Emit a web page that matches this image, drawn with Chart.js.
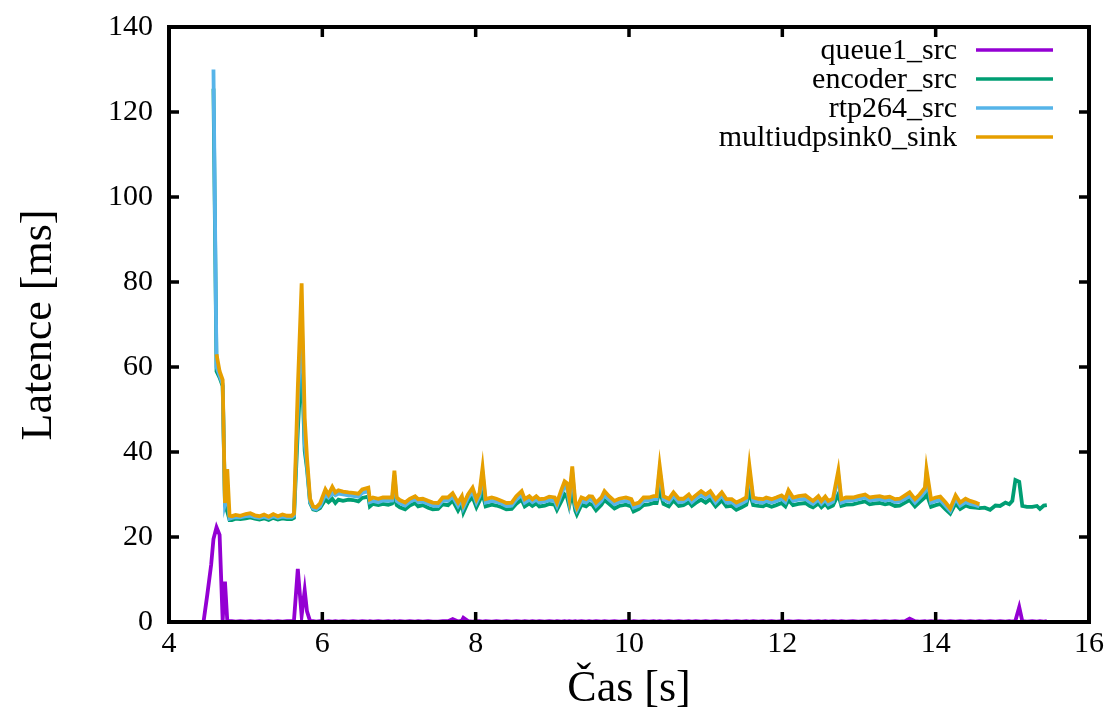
<!DOCTYPE html>
<html>
<head>
<meta charset="utf-8">
<script src="https://cdn.jsdelivr.net/npm/chart.js@4.4.1/dist/chart.umd.min.js"></script>
<style>
  html, body { margin: 0; padding: 0; background: #fff; }
  #wrap { width: 1107px; height: 717px; }
</style>
</head>
<body>
<div id="wrap"><canvas id="c"></canvas></div>
<script>
// time axis [s]
var times = [
  4.45, 4.50, 4.55, 4.58, 4.62, 4.66, 4.70, 4.73, 4.76, 4.79,
  4.82, 4.87, 4.93, 5.00, 5.06, 5.12, 5.18, 5.24, 5.30, 5.36,
  5.42, 5.48, 5.54, 5.60, 5.63, 5.68, 5.73, 5.77, 5.80, 5.84,
  5.88, 5.92, 5.97, 6.04, 6.08, 6.13, 6.17, 6.21, 6.27, 6.34,
  6.40, 6.47, 6.52, 6.60, 6.62, 6.66, 6.73, 6.79, 6.86, 6.91,
  6.94, 6.97, 7.01, 7.08, 7.14, 7.21, 7.25, 7.31, 7.38, 7.44,
  7.51, 7.57, 7.64, 7.70, 7.77, 7.82, 7.84, 7.90, 7.96, 8.01,
  8.05, 8.09, 8.13, 8.21, 8.27, 8.34, 8.40, 8.47, 8.53, 8.60,
  8.64, 8.70, 8.74, 8.79, 8.83, 8.90, 8.96, 9.03, 9.06, 9.12,
  9.16, 9.19, 9.22, 9.26, 9.30, 9.32, 9.38, 9.44, 9.48, 9.52,
  9.57, 9.64, 9.68, 9.74, 9.81, 9.87, 9.96, 10.03, 10.06, 10.13,
  10.19, 10.26, 10.32, 10.36, 10.40, 10.45, 10.52, 10.58, 10.65, 10.71,
  10.78, 10.82, 10.87, 10.94, 11.00, 11.06, 11.13, 11.21, 11.27, 11.34,
  11.40, 11.47, 11.53, 11.57, 11.62, 11.69, 11.75, 11.79, 11.86, 11.92,
  11.99, 12.04, 12.08, 12.14, 12.21, 12.30, 12.36, 12.40, 12.47, 12.51,
  12.56, 12.60, 12.66, 12.73, 12.77, 12.83, 12.92, 12.99, 13.08, 13.14,
  13.21, 13.27, 13.34, 13.40, 13.47, 13.53, 13.60, 13.66, 13.73, 13.79,
  13.86, 13.88, 13.94, 14.00, 14.06, 14.13, 14.19, 14.26, 14.32, 14.39,
  14.45, 14.52, 14.57, 14.64, 14.71, 14.78, 14.84, 14.91, 14.96, 15.00,
  15.04, 15.09, 15.13, 15.19, 15.26, 15.32, 15.36, 15.41, 15.45
];

// latencies [ms]
var queue1 = [
  0, 6.5, 13.5, 19.5, 22.3, 20.5, 0.3, 9.5, 0.3, 0.2,
  0.2, 0.1, 0.2, 0.1, 0.2, 0.1, 0.2, 0.1, 0.2, 0.1,
  0.2, 0.1, 0.2, 0.2, 0.3, 12.5, 1.5, 7.5, 2.5, 0.2,
  0.2, 0.1, 0.2, 0.1, 0.2, 0.1, 0.2, 0.1, 0.2, 0.1,
  0.2, 0.1, 0.2, 0.1, 0.2, 0.1, 0.2, 0.1, 0.2, 0.1,
  0.2, 0.1, 0.2, 0.1, 0.2, 0.1, 0.2, 0.1, 0.2, 0.1,
  0.1, 0.2, 0.2, 0.7, 0.1, 0.3, 1.0, 0.2, 0.1, 0.2,
  0.2, 0.1, 0.2, 0.1, 0.2, 0.1, 0.2, 0.1, 0.2, 0.1,
  0.2, 0.1, 0.2, 0.1, 0.2, 0.1, 0.2, 0.1, 0.2, 0.1,
  0.2, 0.1, 0.2, 0.1, 0.2, 0.1, 0.2, 0.1, 0.2, 0.1,
  0.2, 0.1, 0.2, 0.1, 0.2, 0.1, 0.2, 0.1, 0.2, 0.1,
  0.2, 0.1, 0.2, 0.1, 0.2, 0.1, 0.2, 0.1, 0.2, 0.1,
  0.2, 0.1, 0.2, 0.1, 0.2, 0.1, 0.2, 0.1, 0.2, 0.1,
  0.2, 0.1, 0.2, 0.1, 0.2, 0.1, 0.2, 0.1, 0.2, 0.1,
  0.2, 0.1, 0.2, 0.1, 0.2, 0.1, 0.2, 0.1, 0.2, 0.1,
  0.2, 0.1, 0.2, 0.1, 0.2, 0.1, 0.2, 0.1, 0.2, 0.1,
  0.2, 0.1, 0.2, 0.1, 0.2, 0.1, 0.2, 0.8, 0.2, 0.1,
  0.2, 0.1, 0.2, 0.1, 0.2, 0.1, 0.2, 0.1, 0.2, 0.1,
  0.2, 0.1, 0.2, 0.1, 0.2, 0.1, 0.2, 0.1, 0.2, 0.1,
  0.3, 3.5, 0.2, 0.1, 0.2, 0.1, 0.2, 0.1, 0.2
];

var encoder = [
  null, null, null, 125.5, 59, 57.5, 55.5, 27.5, 26, 24,
  24.0, 24.3, 24.2, 24.4, 24.6, 24.3, 24.1, 24.4, 24.0, 24.5,
  24.1, 24.4, 24.2, 24.2, 24.5, 45, 62, 40.3, 36, 28,
  26.5, 26.3, 26.8, 28.8, 28.2, 29, 28, 28.8, 28.5, 28.8,
  28.7, 28.4, 29.2, 29.5, 27.2, 27.8, 27.5, 27.8, 27.6, 27.9,
  29.5, 27.5, 27, 26.5, 27.4, 28, 27.2, 27.5, 26.9, 26.5,
  26.6, 27.7, 27.5, 28.6, 26.2, 27.8, 25.8, 28.2, 29.4, 27,
  28.5, 30.2, 27.2, 27.6, 27.4, 27, 26.5, 26.6, 27.8, 28.8,
  27.2, 27.9, 27.3, 27.9, 27.2, 27.4, 27.8, 27.6, 26.4, 28.5,
  30, 29.5, 27.3, 30.5, 26.2, 25.3, 27.6, 27.2, 27.8, 27.6,
  26.3, 27.6, 28.7, 27.8, 26.7, 27.3, 27.6, 27.2, 26, 26.6,
  27.5, 27.7, 28, 28, 31, 27.8, 27.2, 28.6, 27.3, 27.5,
  28.2, 27.3, 28, 28.8, 28.1, 28.9, 27.2, 28.6, 27.2, 27.3,
  26.4, 27, 27.6, 30.6, 27.5, 27.3, 27.2, 27.6, 27.1, 27.5,
  28, 27.2, 28.7, 27.5, 27.8, 28, 27.3, 27, 27.9, 27,
  27.8, 26.9, 27.4, 30, 27.3, 27.6, 27.7, 28, 28.4, 27.7,
  27.9, 28, 27.7, 27.9, 27.3, 27.4, 28.1, 28.7, 27.2, 28.2,
  29.3, 30.2, 27.1, 27.5, 27.8, 26.5, 25.5, 27.9, 26.6, 27.4,
  27, 26.9, 26.8, 26.9, 26.4, 27.4, 27.3, 28.1, 27.7, 28.5,
  33.4, 33.0, 27.3, 27.1, 27.1, 27.3, 26.6, 27.4, 27.5
];

var rtp264 = [
  null, null, null, 130, 60, 58, 56, 27.8, 30, 24.3,
  24.5, 24.7, 24.6, 24.9, 25.0, 24.7, 24.5, 24.8, 24.4, 24.9,
  24.5, 24.8, 24.6, 24.6, 25, 50, 73, 42, 37, 28.3,
  26.7, 26.5, 27.2, 30, 29.3, 30.3, 29.8, 30.2, 30, 29.8,
  29.7, 29.5, 30.4, 30.8, 28.2, 28.5, 28.2, 28.6, 28.5, 28.6,
  34.5, 28.5, 28, 27.4, 28.3, 28.9, 28.2, 28.3, 27.8, 27.4,
  27.3, 28.6, 28.5, 29.5, 27.3, 28.8, 26.9, 29.2, 30.6, 28.1,
  29.6, 35, 28.1, 28.5, 28.3, 27.8, 27.3, 27.4, 28.8, 30,
  28.1, 28.8, 28.2, 28.8, 28.1, 28.3, 28.7, 28.5, 27.3, 30.2,
  32, 31.6, 28.4, 35.2, 27.3, 26.3, 28.5, 28.1, 28.8, 28.7,
  27.3, 28.5, 29.9, 28.8, 27.7, 28.2, 28.5, 28.1, 26.9, 27.4,
  28.5, 28.6, 28.9, 28.9, 35.5, 28.8, 28.2, 29.7, 28.2, 28.3,
  29.2, 28.2, 29, 30, 29.2, 30, 28.1, 29.7, 28.1, 28.2,
  27.3, 27.9, 28.5, 35.5, 28.5, 28.2, 28.1, 28.5, 28.1, 28.5,
  29, 28.2, 30, 28.5, 28.8, 29, 28.2, 27.8, 28.8, 27.8,
  28.7, 27.7, 28.3, 34.5, 28.1, 28.5, 28.6, 28.9, 29.3, 28.6,
  28.8, 28.9, 28.6, 28.8, 28.2, 28.3, 29, 29.7, 28.1, 29.2,
  30.6, 34.8, 28.1, 28.5, 28.7, 27.3, 26.1, 29, 27.4, 28.2,
  27.8, 27.5, 27.2, null, null, null, null, null, null, null,
  null, null, null, null, null, null, null, null, null
];

var multiudpsink = [
  null, null, null, null, 63, 59, 57, 28, 36, 25,
  24.9, 25.2, 25.0, 25.4, 25.6, 25.1, 24.9, 25.3, 24.8, 25.4,
  24.9, 25.3, 25.0, 25.0, 25.5, 55, 79.7, 48, 38.6, 29,
  27.2, 27.0, 27.9, 31.2, 30, 31.8, 30.5, 31, 30.7, 30.5,
  30.4, 30.2, 31.2, 31.6, 28.9, 29.3, 29, 29.3, 29.3, 29.3,
  35.6, 29.3, 28.7, 28.1, 29, 29.6, 28.9, 29, 28.5, 28.1,
  28, 29.3, 29.3, 30.3, 28.1, 29.6, 27.7, 30, 31.6, 28.9,
  30.4, 36.3, 28.9, 29.3, 29, 28.5, 28, 28.1, 29.6, 30.8,
  28.9, 29.6, 28.9, 29.6, 28.9, 29, 29.5, 29.3, 28.1, 31.2,
  33.1, 32.7, 29.3, 36.6, 28.1, 27, 29.3, 28.9, 29.6, 29.5,
  28.1, 29.3, 30.8, 29.6, 28.5, 29, 29.3, 28.9, 27.7, 28.1,
  29.3, 29.3, 29.6, 29.6, 36.8, 29.6, 29, 30.5, 29, 29,
  30, 29, 29.8, 30.8, 30, 30.8, 28.9, 30.5, 28.9, 28.9,
  28.1, 28.7, 29.3, 36.8, 29.3, 29, 28.9, 29.3, 28.9, 29.3,
  29.8, 29, 31, 29.3, 29.6, 29.8, 29, 28.5, 29.6, 28.5,
  29.5, 28.5, 29, 35.6, 28.9, 29.3, 29.3, 29.6, 30, 29.3,
  29.5, 29.6, 29.3, 29.5, 28.9, 29, 29.8, 30.5, 28.9, 30,
  31.6, 36, 28.9, 29.3, 29.5, 28.1, 26.7, 29.8, 28.1, 29,
  28.5, 28.1, 27.7, null, null, null, null, null, null, null,
  null, null, null, null, null, null, null, null, null
];

var seriesNames = ['queue1_src', 'encoder_src', 'rtp264_src', 'multiudpsink0_sink'];
var seriesColors = ['#9400d3', '#009e73', '#56b4e9', '#e69f00'];
var seriesData = [queue1, encoder, rtp264, multiudpsink];

var FONT = "'Liberation Serif', 'DejaVu Serif', serif";

function toPoints(values) {
  return times.map(function (t, i) { return { x: t, y: values[i] }; });
}

var datasets = seriesData.map(function (vals, i) {
  return {
    label: seriesNames[i],
    data: toPoints(vals),
    borderColor: seriesColors[i],
    backgroundColor: seriesColors[i],
    borderWidth: 3.8,
    pointRadius: 0,
    tension: 0,
    spanGaps: false,
    order: 3 - i   // last series drawn on top, like gnuplot
  };
});

// frame, inward ticks on all sides, axis titles and gnuplot-style key
var gnuplotLook = {
  id: 'gnuplotLook',
  afterDraw: function (chart) {
    var ctx = chart.ctx;
    var a = chart.chartArea;
    var xs = chart.scales.x, ys = chart.scales.y;
    ctx.save();
    ctx.strokeStyle = '#000';
    ctx.lineWidth = 3.5;
    ctx.beginPath();
    xs.ticks.forEach(function (tk) {
      var px = xs.getPixelForValue(tk.value);
      ctx.moveTo(px, a.bottom); ctx.lineTo(px, a.bottom - 10);
      ctx.moveTo(px, a.top); ctx.lineTo(px, a.top + 10);
    });
    ys.ticks.forEach(function (tk) {
      var py = ys.getPixelForValue(tk.value);
      ctx.moveTo(a.left, py); ctx.lineTo(a.left + 10, py);
      ctx.moveTo(a.right, py); ctx.lineTo(a.right - 10, py);
    });
    ctx.stroke();
    ctx.lineWidth = 4;
    ctx.strokeRect(a.left, a.top, a.right - a.left, a.bottom - a.top);

    // axis titles
    ctx.fillStyle = '#000';
    ctx.font = '44px ' + FONT;
    ctx.textAlign = 'center';
    ctx.textBaseline = 'alphabetic';
    ctx.fillText('Čas [s]', (a.left + a.right) / 2, 701);
    ctx.save();
    ctx.translate(51, 325);
    ctx.rotate(-Math.PI / 2);
    ctx.fillText('Latence [ms]', 0, 0);
    ctx.restore();

    // key
    ctx.font = '30px ' + FONT;
    ctx.textAlign = 'right';
    ctx.textBaseline = 'middle';
    ctx.lineWidth = 3.5;
    seriesNames.forEach(function (name, i) {
      var y = 50 + i * 29;
      ctx.fillText(name, 957, y + 1);
      ctx.strokeStyle = seriesColors[i];
      ctx.beginPath();
      ctx.moveTo(976, y); ctx.lineTo(1053, y);
      ctx.stroke();
    });
    ctx.restore();
  }
};

new Chart(document.getElementById('c'), {
  type: 'line',
  data: { datasets: datasets },
  options: {
    responsive: true,
    maintainAspectRatio: false,
    animation: false,
    layout: { padding: { left: 0, top: 27, right: 18, bottom: 0 } },
    plugins: {
      legend: { display: false },
      tooltip: { enabled: false }
    },
    scales: {
      x: {
        type: 'linear',
        min: 4, max: 16,
        grid: { display: false, drawTicks: false },
        border: { display: false },
        ticks: { stepSize: 2, maxRotation: 0, padding: 4, color: '#000', font: { family: FONT, size: 30 } },
        afterFit: function (s) { s.height = 95; s.paddingLeft = 0; s.paddingRight = 0; }
      },
      y: {
        min: 0, max: 140,
        grid: { display: false, drawTicks: false },
        border: { display: false },
        ticks: { stepSize: 20, padding: 16, color: '#000', font: { family: FONT, size: 30 } },
        afterFit: function (s) { s.width = 169; s.paddingTop = 0; s.paddingBottom = 0; }
      }
    }
  },
  plugins: [gnuplotLook]
});
</script>
</body>
</html>
